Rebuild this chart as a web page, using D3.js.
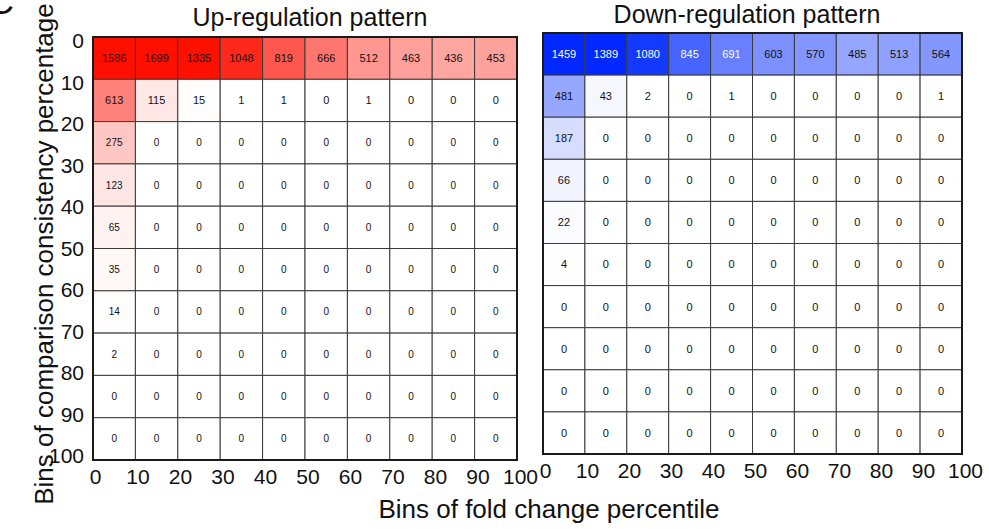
<!DOCTYPE html>
<html>
<head>
<meta charset="utf-8">
<script src="https://cdn.jsdelivr.net/npm/d3@7"></script>
<style>
  body { margin: 0; background: #fff; }
  svg { display: block; font-family: Arial, "Liberation Sans", sans-serif; }
</style>
</head>
<body>
<svg id="chart" width="989" height="529"></svg>
<script>
// bins 0..100 step 10, on both axes
var binTicks = [0, 10, 20, 30, 40, 50, 60, 70, 80, 90, 100];
var binIndex = [0, 1, 2, 3, 4, 5, 6, 7, 8, 9];

// counts, one array per consistency bin (rows), one value per fold-change bin (columns)
var upCounts = [
  [1586, 1699, 1335, 1048, 819, 666, 512, 463, 436, 453],
  [613, 115, 15, 1, 1, 0, 1, 0, 0, 0],
  [275, 0, 0, 0, 0, 0, 0, 0, 0, 0],
  [123, 0, 0, 0, 0, 0, 0, 0, 0, 0],
  [65, 0, 0, 0, 0, 0, 0, 0, 0, 0],
  [35, 0, 0, 0, 0, 0, 0, 0, 0, 0],
  [14, 0, 0, 0, 0, 0, 0, 0, 0, 0],
  [2, 0, 0, 0, 0, 0, 0, 0, 0, 0],
  [0, 0, 0, 0, 0, 0, 0, 0, 0, 0],
  [0, 0, 0, 0, 0, 0, 0, 0, 0, 0]
];
var downCounts = [
  [1459, 1389, 1080, 845, 691, 603, 570, 485, 513, 564],
  [481, 43, 2, 0, 1, 0, 0, 0, 0, 1],
  [187, 0, 0, 0, 0, 0, 0, 0, 0, 0],
  [66, 0, 0, 0, 0, 0, 0, 0, 0, 0],
  [22, 0, 0, 0, 0, 0, 0, 0, 0, 0],
  [4, 0, 0, 0, 0, 0, 0, 0, 0, 0],
  [0, 0, 0, 0, 0, 0, 0, 0, 0, 0],
  [0, 0, 0, 0, 0, 0, 0, 0, 0, 0],
  [0, 0, 0, 0, 0, 0, 0, 0, 0, 0],
  [0, 0, 0, 0, 0, 0, 0, 0, 0, 0]
];

var svg = d3.select("#chart");

function drawPanel(opt){
  var x = d3.scaleBand().domain(binIndex).range([opt.x0, opt.x1]);
  var y = d3.scaleBand().domain(binIndex).range([opt.y0, opt.y1]);
  var color = d3.scaleLinear().domain([0, 1170]).range(["#ffffff", opt.hot]).clamp(true);

  var cells = [];
  opt.data.forEach(function(row, r){
    row.forEach(function(v, c){ cells.push({r: r, c: c, v: v}); });
  });

  var g = svg.append("g");
  g.selectAll("rect.cell").data(cells).enter().append("rect")
    .attr("class", "cell")
    .attr("x", function(d){ return x(d.c); })
    .attr("y", function(d){ return y(d.r); })
    .attr("width", x.bandwidth())
    .attr("height", y.bandwidth())
    .style("fill", function(d){ return color(d.v); })
    .style("stroke", "#3a3a3a")
    .style("stroke-width", 1);

  g.selectAll("text.val").data(cells).enter().append("text")
    .attr("class", "val")
    .attr("x", function(d){ return x(d.c) + x.bandwidth() / 2; })
    .attr("y", function(d){ return y(d.r) + y.bandwidth() / 2; })
    .attr("dy", "0.35em")
    .attr("text-anchor", "middle")
    .style("font-size", function(d){ return (opt.small && d.r > 1) ? "10px" : "11px"; })
    .style("fill", function(d){ return d.v > opt.whiteAbove ? "#fff" : "#111"; })
    .text(function(d){ return d.v; });

  // frame
  g.append("rect")
    .attr("x", opt.x0).attr("y", opt.y0)
    .attr("width", opt.x1 - opt.x0).attr("height", opt.y1 - opt.y0)
    .style("fill", "none").style("stroke", "#1a1a1a").style("stroke-width", 2);

  // x tick labels
  var xt = d3.scaleLinear().domain([0, 100]).range([opt.x0 + 2, opt.x1 + 3]);
  var xa = svg.append("g")
    .attr("transform", "translate(0," + (opt.y1 + 2) + ")")
    .call(d3.axisBottom(xt).tickValues(binTicks).tickSize(0).tickPadding(7).tickFormat(d3.format("d")));
  xa.select(".domain").remove();
  xa.selectAll("text").style("font-size", "21px").style("fill", "#111")
    .style("font-family", "Arial, 'Liberation Sans', sans-serif");

  // title
  svg.append("text")
    .attr("x", opt.titleX).attr("y", opt.titleY)
    .attr("text-anchor", "middle")
    .style("font-size", "25px").style("fill", "#111")
    .text(opt.title);

  return {x: x, y: y};
}

drawPanel({
  data: upCounts, hot: "#ff0f00",
  x0: 93, x1: 517, y0: 37, y1: 460,
  whiteAbove: 100000, small: true,
  title: "Up-regulation pattern", titleX: 310, titleY: 26
});
drawPanel({
  data: downCounts, hot: "#0028ff",
  x0: 543, x1: 962, y0: 33, y1: 454,
  whiteAbove: 650, small: false,
  title: "Down-regulation pattern", titleX: 747, titleY: 23
});

// y tick labels (left panel only)
var yt = d3.scaleLinear().domain([0, 100]).range([41, 456]);
var ya = svg.append("g")
  .attr("transform", "translate(89,0)")
  .call(d3.axisLeft(yt).tickValues(binTicks).tickSize(0).tickPadding(5).tickFormat(d3.format("d")));
ya.select(".domain").remove();
ya.selectAll("text").style("font-size", "21px").style("fill", "#111")
  .style("font-family", "Arial, 'Liberation Sans', sans-serif");

// axis titles
svg.append("text")
  .attr("x", 549).attr("y", 518)
  .attr("text-anchor", "middle")
  .style("font-size", "26px").style("fill", "#111")
  .text("Bins of fold change percentile");

svg.append("text")
  .attr("transform", "translate(53,254) rotate(-90)")
  .attr("text-anchor", "middle")
  .style("font-size", "26px").style("fill", "#111")
  .text("Bins of comparison consistency percentage");

// panel letter, cut by the page edge as in the figure
svg.append("text")
  .attr("x", -12).attr("y", 14)
  .style("font-size", "36px").style("fill", "#111")
  .text("C");
</script>
</body>
</html>
